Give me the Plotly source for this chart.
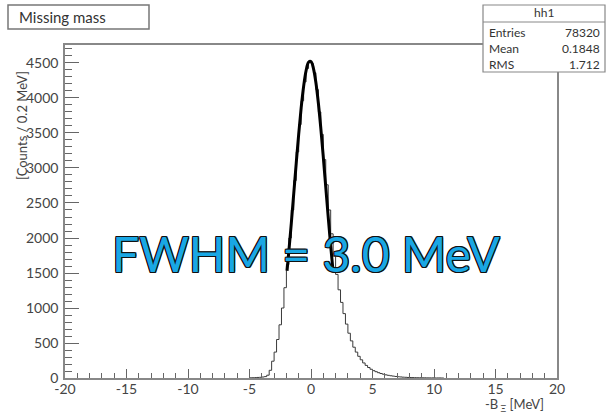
import numpy as np
import plotly.graph_objects as go

# ---------------- data ----------------
bin_width = 0.2
first_edge = -5.0
counts = [3, 4, 6, 8, 10, 14, 20, 40, 110, 240,
          370, 550, 760, 1000, 1290, 1620, 2000, 2400, 2820, 3230,
          3620, 3960, 4230, 4420, 4510, 4490, 4360, 4120, 3800, 3480,
          3120, 2760, 2400, 2060, 1740, 1480, 1260, 1080, 920, 770,
          640, 530, 440, 370, 310, 260, 215, 180, 150, 125,
          105, 90, 76, 64, 54, 45, 38, 32, 27, 22,
          18, 15, 12, 10, 8, 7, 6, 5, 4, 4,
          3, 3, 2, 2, 2, 1, 1, 1, 0]

fit_x = [-1.95, -1.8, -1.6, -1.4, -1.2, -1.0, -0.8, -0.6, -0.4, -0.2,
         0.0, 0.2, 0.4, 0.6, 0.8, 1.0, 1.2, 1.4, 1.6, 1.8]
fit_y = [1532, 1811, 2214, 2640, 3071, 3485, 3858, 4166, 4389, 4510,
         4521, 4421, 4218, 3925, 3563, 3156, 2726, 2297, 1889, 1514]

x_ticks = [-20, -15, -10, -5, 0, 5, 10, 15, 20]
y_ticks = [0, 500, 1000, 1500, 2000, 2500, 3000, 3500, 4000, 4500]

title_text = "Missing mass"
stats_name = "hh1"
stats_rows = [("Entries", "78320"), ("Mean", "0.1848"), ("RMS", "1.712")]
fwhm_text = "FWHM = 3.0 MeV"

# ---------------- figure ----------------
W, H = 606, 418
L, R, T, B = 65, 49, 45, 40
pw, ph = W - L - R, H - T - B


def px(x):
    return (x - L) / pw


def py(y):
    return (H - B - y) / ph


edges = first_edge + bin_width * np.arange(len(counts) + 1)
hx = list(edges)
hy = list(counts) + [counts[-1]]

fig = go.Figure()
fig.add_trace(go.Scatter(x=hx, y=hy, mode="lines", line_shape="hv",
                         line=dict(color="#3a3a3a", width=1), hoverinfo="skip"))
fig.add_trace(go.Scatter(x=fit_x, y=fit_y, mode="lines", line_shape="spline",
                         line=dict(color="#000000", width=3), hoverinfo="skip"))

tickfont = dict(family="Lato, 'Open Sans', sans-serif", size=14, color="#444444")

fig.update_layout(
    width=W, height=H,
    margin=dict(l=L, r=R, t=T, b=B),
    paper_bgcolor="white", plot_bgcolor="white",
    showlegend=False,
    xaxis=dict(range=[-20, 20], tickvals=x_ticks, ticktext=[str(v) for v in x_ticks],
               ticks="inside", ticklen=9, tickwidth=1.2, tickcolor="#666666",
               minor=dict(dtick=1, ticks="inside", ticklen=5, tickcolor="#666666", tickwidth=1.2),
               showline=True, linecolor="#888888", linewidth=1.5, mirror=True,
               showgrid=False, zeroline=False, tickfont=tickfont, ticklabelstandoff=-3),
    yaxis=dict(range=[0, 4757], tickvals=y_ticks, ticktext=[str(v) for v in y_ticks],
               ticks="inside", ticklen=14, tickwidth=1.2, tickcolor="#666666",
               minor=dict(dtick=100, ticks="inside", ticklen=7, tickcolor="#666666", tickwidth=1.2),
               showline=True, linecolor="#888888", linewidth=1.5, mirror=True,
               showgrid=False, zeroline=False, tickfont=tickfont, ticklabelstandoff=2),
)

shapes = []
annotations = []

# title box
shapes.append(dict(type="rect", xref="paper", yref="paper",
                   x0=px(8), x1=px(149), y0=py(29), y1=py(5),
                   line=dict(color="#777777", width=1.5), fillcolor="white", layer="above"))
annotations.append(dict(text=title_text, xref="paper", yref="paper", x=px(17), y=py(17),
                        xanchor="left", yanchor="middle", showarrow=False,
                        font=dict(family="Lato, sans-serif", size=15, color="#333333")))

# stats box
shapes.append(dict(type="rect", xref="paper", yref="paper",
                   x0=px(483), x1=px(605), y0=py(72), y1=py(5),
                   line=dict(color="#888888", width=1.2), fillcolor="white", layer="above"))
shapes.append(dict(type="line", xref="paper", yref="paper",
                   x0=px(483), x1=px(605), y0=py(22), y1=py(22),
                   line=dict(color="#888888", width=1)))
annotations.append(dict(text=stats_name, xref="paper", yref="paper", x=px(544), y=py(13),
                        xanchor="center", yanchor="middle", showarrow=False,
                        font=dict(family="Lato, sans-serif", size=12, color="#333333")))
row_y = [32, 48, 64]
for (k, v), yy in zip(stats_rows, row_y):
    annotations.append(dict(text=k, xref="paper", yref="paper", x=px(487), y=py(yy),
                            xanchor="left", yanchor="middle", showarrow=False,
                            font=dict(family="Lato, sans-serif", size=12, color="#333333")))
    annotations.append(dict(text=v, xref="paper", yref="paper", x=px(602), y=py(yy),
                            xanchor="right", yanchor="middle", showarrow=False,
                            font=dict(family="Lato, sans-serif", size=12, color="#333333")))

# axis titles
annotations.append(dict(text="[Counts / 0.2 MeV]", xref="paper", yref="paper",
                        x=px(22), y=py(126), xanchor="center", yanchor="middle",
                        textangle=-90, showarrow=False,
                        font=dict(family="Lato, sans-serif", size=13, color="#444444")))
annotations.append(dict(text="-B<sub> Ξ</sub> [MeV]", xref="paper", yref="paper",
                        x=px(546), y=py(405), xanchor="right", yanchor="middle",
                        showarrow=False,
                        font=dict(family="Lato, sans-serif", size=13, color="#444444")))

# FWHM label
annotations.append(dict(text=fwhm_text, xref="paper", yref="paper",
                        x=px(306), y=py(253), xanchor="center", yanchor="middle",
                        showarrow=False,
                        font=dict(family="Lato, sans-serif", size=48, color="#19a7e4",
                                  shadow="-1px -1px 0 #111, 1px -1px 0 #111, -1px 1px 0 #111, 1px 1px 0 #111, 0 1px 0 #111, 0 -1px 0 #111, 1px 0 0 #111, -1px 0 0 #111")))

fig.update_layout(shapes=shapes, annotations=annotations)

fig.write_html("out.html")
